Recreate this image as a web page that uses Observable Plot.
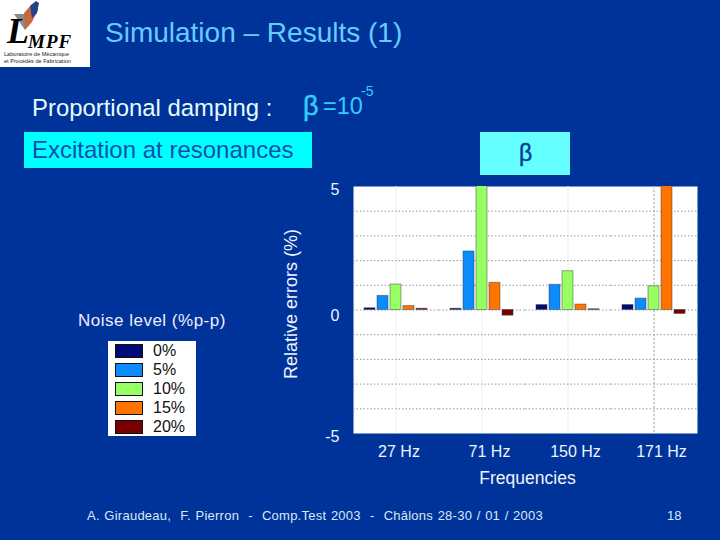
<!DOCTYPE html>
<html>
<head>
<meta charset="utf-8">
<script src="https://cdn.jsdelivr.net/npm/d3@7"></script>
<script src="https://cdn.jsdelivr.net/npm/@observablehq/plot@0.6"></script>
<style>
html,body{margin:0;padding:0;background:#003399;}
body{width:720px;height:540px;position:relative;overflow:hidden;font-family:"Liberation Sans",Arial,sans-serif;}
.t{position:absolute;white-space:nowrap;line-height:1;}
#chart{position:absolute;left:0;top:0;}
#chart svg{background:transparent;display:block;}
#logo{position:absolute;left:0;top:0;width:90px;height:67px;background:#fff;overflow:hidden;}
#box1{position:absolute;left:24px;top:132px;width:288px;height:36px;background:#00ffff;}
#box2{position:absolute;left:480px;top:132px;width:90px;height:43px;background:#66ffff;}
#legend{position:absolute;left:108px;top:341px;width:88px;height:95px;background:#fff;}
#legend .sw{position:absolute;left:7px;width:28px;height:14px;border:1px solid #111;box-sizing:border-box;}
#legend .lb{position:absolute;left:45px;font-size:16px;line-height:1;color:#111;}
</style>
</head>
<body>
<div id="logo">
<svg width="90" height="67" style="position:absolute;left:0;top:0">
<path d="M14 14 L27 14 L25 30 Z" fill="#8a8a8a"/>
<path d="M24 13 L31 5 L36 2 L38 10 L32 22 L25 30 Z" fill="#c8693c"/>
<path d="M30 6 L36 1 L39 3 L37 13 L32 18 Z" fill="#26408c"/>
</svg>
<div class="t" style="left:7px;top:10px;font:italic bold 36px 'Liberation Serif',serif;color:#000">L</div>
<div class="t" style="left:28px;top:31px;font:italic bold 19px 'Liberation Serif',serif;color:#000;letter-spacing:1px">MPF</div>
<div class="t" style="left:4px;top:52px;font-size:5.6px;color:#222">Laboratoire de Mécanique</div>
<div class="t" style="left:4px;top:59px;font-size:5.6px;color:#222">et Procédés de Fabrication</div>
</div>
<div class="t" style="left:105px;top:19px;font-size:28px;color:#66ccff">Simulation – Results (1)</div>
<div class="t" style="left:32px;top:96px;font-size:23.9px;color:#e6fbff">Proportional damping :</div>
<div class="t" style="left:303px;top:93px;font-size:27px;-webkit-text-stroke:.5px #33ccff;color:#33ccff">β</div>
<div class="t" style="left:323px;top:95px;font-size:23.5px;color:#33ccff">=10</div>
<div class="t" style="left:361px;top:84px;font-size:14px;color:#33ccff">-5</div>
<div id="box1"></div>
<div class="t" style="left:32px;top:138px;font-size:24px;color:#0a4fb0">Excitation at resonances</div>
<div id="box2"></div>
<div class="t" style="left:519px;top:142px;font-size:23px;-webkit-text-stroke:.5px #0a3f9c;color:#0a3f9c">β</div>
<div class="t" style="left:78px;top:312px;font-size:17px;letter-spacing:.5px;color:#eef">Noise level (%p-p)</div>
<div id="legend"></div>
<div id="chart"></div>
<div class="t" style="left:87px;top:509px;font-size:13px;letter-spacing:.25px;color:#d8e8f8;word-spacing:.7px">A. Giraudeau, &nbsp;F. Pierron &nbsp;- &nbsp;Comp.Test 2003 &nbsp;- &nbsp;Châlons 28-30 / 01 / 2003</div>
<div class="t" style="left:667px;top:509px;font-size:13px;color:#d8e8f8">18</div>
<script>
const frequencies = ["27 Hz", "71 Hz", "150 Hz", "171 Hz"];
const noiseLevels = ["0%", "5%", "10%", "15%", "20%"];
const noiseColors = ["#000a78", "#0a8cff", "#96ff64", "#ff7300", "#7a0000"];
const noise0  = [0.07, 0.05, 0.20, 0.20];
const noise5  = [0.57, 2.37, 1.02, 0.46];
const noise10 = [1.03, 5.60, 1.57, 0.96];
const noise15 = [0.16, 1.10, 0.22, 5.60];
const noise20 = [0.05, -0.23, 0.03, -0.16];
const series = [noise0, noise5, noise10, noise15, noise20];
const yGridValues = [-4, -3, -2, -1, 0, 1, 2, 3, 4];

const rows = series.flatMap((vals, i) =>
  vals.map((v, j) => ({freq: frequencies[j], noise: noiseLevels[i], value: v})));

const legend = document.getElementById("legend");
noiseLevels.forEach((n, i) => {
  const s = document.createElement("div");
  s.className = "sw"; s.style.top = (3 + i * 18.9) + "px"; s.style.background = noiseColors[i];
  legend.appendChild(s);
  const l = document.createElement("div");
  l.className = "lb"; l.style.top = (2 + i * 18.9) + "px"; l.textContent = n;
  legend.appendChild(l);
});

const ink = "#eef4ff";
const tickStyle = {fill: ink, fontSize: 16, tickSize: 0, tickFormat: d => String(d)};
const freqLabel = {fx: d => d, text: d => d, frameAnchor: "bottom", dy: 23, fontSize: 16, fill: ink};
const plot = Plot.plot({
  width: 720, height: 540,
  marginLeft: 354, marginRight: 24, marginTop: 186, marginBottom: 107,
  style: {background: "transparent", fontFamily: "'Liberation Sans',Arial,sans-serif", overflow: "visible"},
  fx: {domain: frequencies, paddingInner: 0, paddingOuter: -0.0185, axis: null},
  x: {domain: noiseLevels, paddingInner: 0.15, paddingOuter: 0.845, axis: null},
  y: {domain: [-5, 5], axis: null},
  color: {domain: noiseLevels, range: noiseColors},
  marks: [
    Plot.frame({fill: "white", stroke: "none", facet: "super"}),
    Plot.ruleX(["10%"], {x: d => d, stroke: "#efefef", strokeWidth: 1}),
    Plot.ruleX([{freq: "171 Hz", noise: "10%"}], {fx: "freq", x: "noise", stroke: "#aaa", strokeDasharray: "2,2"}),
    Plot.gridY(yGridValues, {stroke: "#999", strokeOpacity: 1, strokeDasharray: "1.5,2"}),
    Plot.barY(rows, {fx: "freq", x: "noise", y: "value", fill: "noise", stroke: "#333", strokeOpacity: 0.45, strokeWidth: 1, clip: true}),
    Plot.axisY({ticks: [5, -5], anchor: "left", tickPadding: 14, dy: 3, label: null, ...tickStyle}),
    Plot.axisY({ticks: [0], anchor: "left", tickPadding: 14, dy: 6, label: null, ...tickStyle}),
    Plot.text(["27 Hz"], {...freqLabel, dx: 2.5}),
    Plot.text(["71 Hz", "150 Hz", "171 Hz"], {...freqLabel, dx: 7}),
    Plot.text(["Relative errors (%)"], {frameAnchor: "left", textAnchor: "middle", dx: -62, dy: -6, rotate: -90, fontSize: 18, fill: ink, facet: "super"}),
    Plot.text(["Frequencies"], {frameAnchor: "bottom", dx: 2, dy: 50, fontSize: 17.5, fill: ink, facet: "super"})
  ]
});
document.getElementById("chart").appendChild(plot);
</script>
</body>
</html>
